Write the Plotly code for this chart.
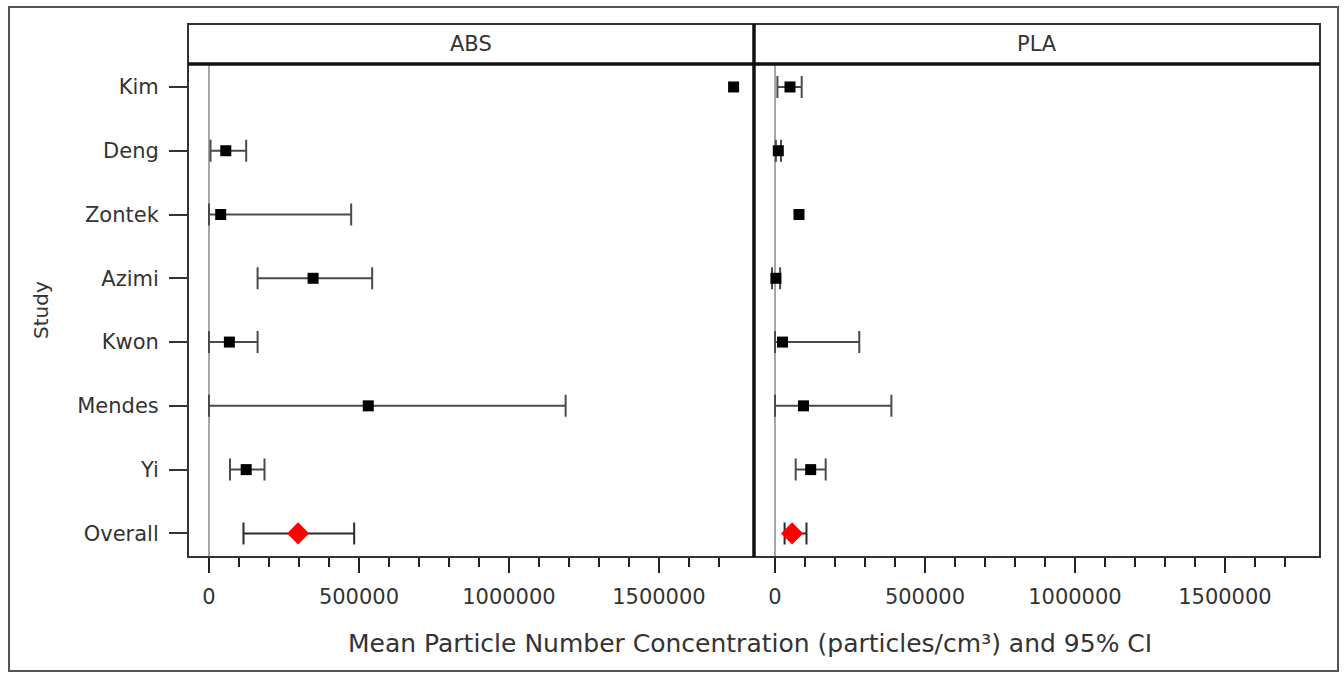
import plotly.graph_objects as go

# ---------------- data ----------------
studies = ["Kim", "Deng", "Zontek", "Azimi", "Kwon", "Mendes", "Yi", "Overall"]
panels = ["ABS", "PLA"]

abs_mean  = [1749000, 56000, 39000, 347000, 68000, 531000, 124000, 297000]
abs_lower = [None, 5000, 0, 162000, 0, 0, 70000, 115000]
abs_upper = [None, 124000, 474000, 544000, 162000, 1189000, 185000, 484000]

pla_mean  = [50000, 11000, 80000, 3000, 25000, 95000, 119000, 57000]
pla_lower = [8000, 3000, None, -10000, 0, 0, 69000, 32000]
pla_upper = [89000, 20000, None, 17000, 281000, 388000, 169000, 105000]

x_tickvals = [0, 500000, 1000000, 1500000]
x_ticktext = ["0", "500000", "1000000", "1500000"]
x_minor = [100000, 200000, 300000, 400000, 600000, 700000, 800000, 900000,
           1100000, 1200000, 1300000, 1400000, 1600000, 1700000]
x_range = [-70000, 1817000]

x_title = "Mean Particle Number Concentration (particles/cm³) and 95% CI"
y_title = "Study"

# ---------------- layout constants ----------------
W, H = 1344, 673
ML, MR, MT, MB = 188, 24, 64, 116
PW = W - ML - MR
PH = H - MT - MB
FONT = "DejaVu Sans"
TXT = "#333333"


def px2x(px):
    return (px - ML) / PW


def px2y(py):
    return (H - MB - py) / PH


fig = go.Figure()

series = [(abs_mean, abs_lower, abs_upper, "x", "y"),
          (pla_mean, pla_lower, pla_upper, "x2", "y2")]

for mean, lower, upper, xa, ya in series:
    n = len(studies) - 1
    groups = {
        "ci": [i for i in range(n) if lower[i] is not None],
        "noci": [i for i in range(n) if lower[i] is None],
        "overall": [n],
    }
    for key, idx in groups.items():
        if not idx:
            continue
        xs = [mean[i] for i in idx]
        ys = [studies[i] for i in idx]
        if key == "overall":
            marker = dict(symbol="diamond", size=17, color="#ff0000")
        else:
            marker = dict(symbol="square", size=11, color="black")
        kw = {}
        if key != "noci":
            kw["error_x"] = dict(
                type="data", symmetric=False,
                array=[upper[i] - mean[i] for i in idx],
                arrayminus=[mean[i] - lower[i] for i in idx],
                color="#4a4a4a" if key == "ci" else "#2a2a2a",
                thickness=2, width=11)
        fig.add_trace(go.Scatter(x=xs, y=ys, xaxis=xa, yaxis=ya, mode="markers",
                                 marker=marker, showlegend=False, hoverinfo="x+y", **kw))

xaxis_common = dict(
    range=x_range, tickmode="array", tickvals=x_tickvals, ticktext=x_ticktext,
    ticks="outside", ticklen=15, tickwidth=2, tickcolor="#222222",
    minor=dict(tickmode="array", tickvals=x_minor, ticks="outside", ticklen=9,
               tickwidth=1.5, tickcolor="#222222"),
    showgrid=False, zeroline=False, showline=False,
    tickfont=dict(family=FONT, size=21, color=TXT), ticklabelstandoff=6,
)

yaxis_common = dict(
    type="category", categoryorder="array", categoryarray=studies,
    range=[7.37, -0.36], showgrid=False, zeroline=False, showline=False,
)

fig.update_layout(
    width=W, height=H,
    margin=dict(l=ML, r=MR, t=MT, b=MB, pad=0),
    paper_bgcolor="white", plot_bgcolor="white",
    xaxis=dict(domain=[0, 0.5], anchor="y", **xaxis_common),
    xaxis2=dict(domain=[0.5, 1], anchor="y2", **xaxis_common),
    yaxis=dict(anchor="x", ticks="outside", ticklen=18, tickwidth=1.5,
               tickcolor="#333333", tickfont=dict(family=FONT, size=21, color=TXT),
               ticklabelstandoff=6, **yaxis_common),
    yaxis2=dict(anchor="x2", matches="y", showticklabels=False, ticks="",
                **yaxis_common),
)

shapes = []
# zero reference lines
for xr in ["x", "x2"]:
    shapes.append(dict(type="line", xref=xr, yref="paper", x0=0, x1=0, y0=0, y1=1,
                       line=dict(color="#8a8a8a", width=1.5), layer="below"))
# outer frame
shapes.append(dict(type="rect", xref="paper", yref="paper",
                   x0=px2x(9), x1=px2x(1338), y0=px2y(671), y1=px2y(7),
                   line=dict(color="#555555", width=2)))
# header boxes
shapes.append(dict(type="rect", xref="paper", yref="paper",
                   x0=0, x1=1, y0=1, y1=px2y(24),
                   line=dict(color="#333333", width=2)))
# plot area frame
shapes.append(dict(type="rect", xref="paper", yref="paper",
                   x0=0, x1=1, y0=0, y1=1, line=dict(color="#333333", width=2)))
# thick header bottom line
shapes.append(dict(type="line", xref="paper", yref="paper",
                   x0=0, x1=1, y0=1, y1=1, line=dict(color="#111111", width=3.5)))
# thick panel divider
shapes.append(dict(type="line", xref="paper", yref="paper",
                   x0=0.5, x1=0.5, y0=0, y1=px2y(24), line=dict(color="#111111", width=3.5)))
fig.update_layout(shapes=shapes)

annotations = []
for i, p in enumerate(panels):
    annotations.append(dict(text=p, xref="paper", yref="paper", x=0.25 + 0.5 * i,
                            y=px2y(44), xanchor="center", yanchor="middle",
                            showarrow=False, font=dict(family=FONT, size=21, color=TXT)))
annotations.append(dict(text=x_title, xref="paper", yref="paper", x=px2x(750),
                        y=px2y(643), xanchor="center", yanchor="middle", showarrow=False,
                        font=dict(family=FONT, size=25, color=TXT)))
annotations.append(dict(text=y_title, xref="paper", yref="paper", x=px2x(41),
                        y=px2y(310), xanchor="center", yanchor="middle", showarrow=False,
                        textangle=-90, font=dict(family=FONT, size=20, color=TXT)))
fig.update_layout(annotations=annotations)

fig.write_html("out.html")
